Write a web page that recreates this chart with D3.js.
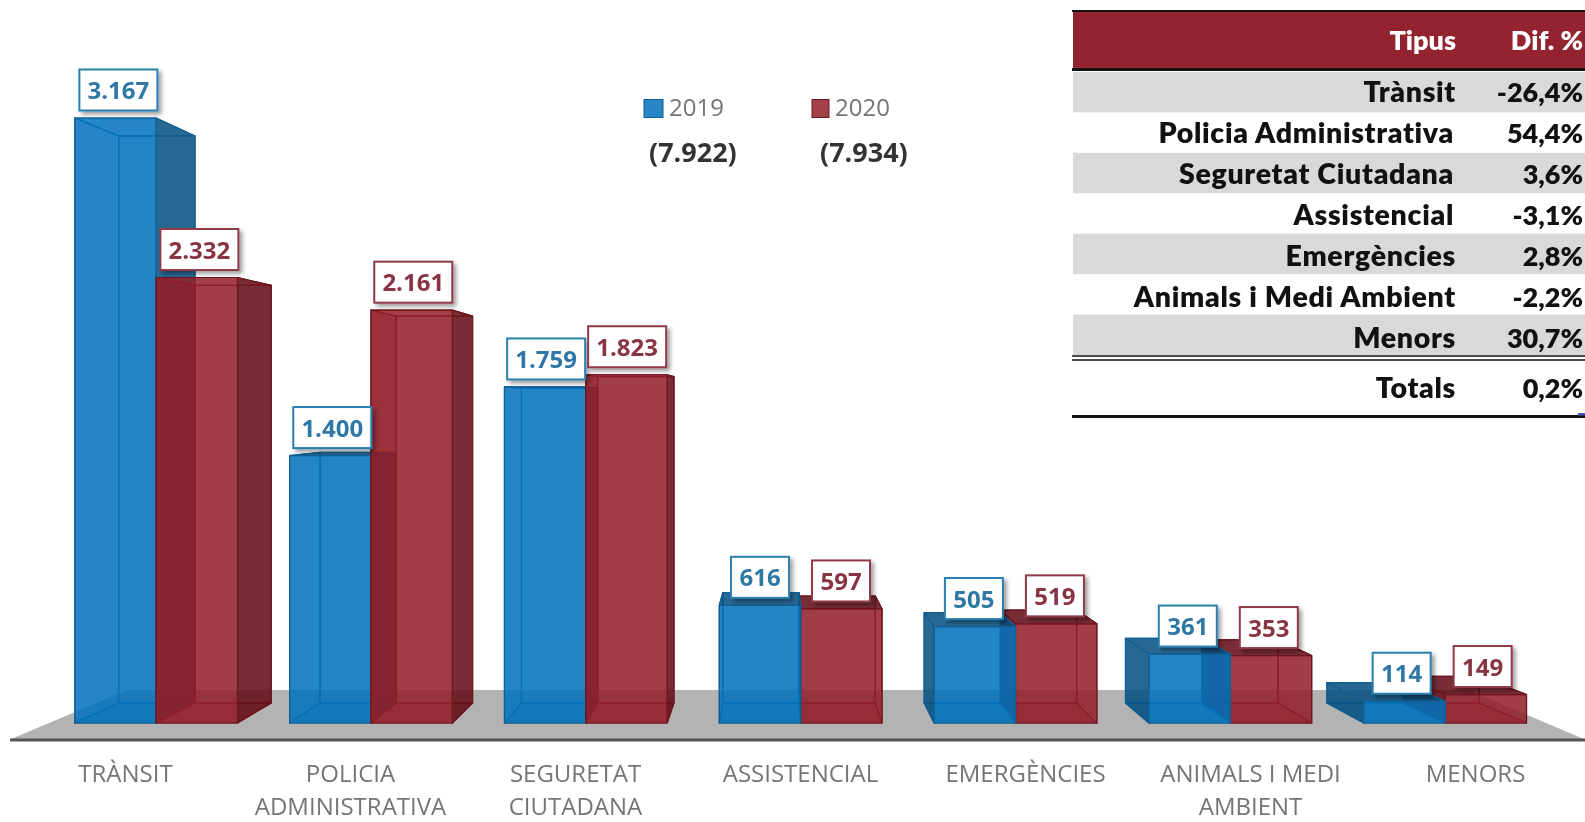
<!DOCTYPE html>
<html><head><meta charset="utf-8">
<script src="https://cdn.jsdelivr.net/npm/d3@7"></script>
<style>html,body{margin:0;padding:0;background:#fff;overflow:hidden}svg{display:block;filter:blur(0.6px)}</style>
</head><body><div id="c"></div>
<script>
const categories=["TRÀNSIT","POLICIA ADMINISTRATIVA","SEGURETAT CIUTADANA","ASSISTENCIAL","EMERGÈNCIES","ANIMALS I MEDI AMBIENT","MENORS"];
const categoryLines=[["TRÀNSIT"],["POLICIA","ADMINISTRATIVA"],["SEGURETAT","CIUTADANA"],["ASSISTENCIAL"],["EMERGÈNCIES"],["ANIMALS I MEDI","AMBIENT"],["MENORS"]];
const years=["2019","2020"];
const values2019=[3167,1400,1759,616,505,361,114];
const values2020=[2332,2161,1823,597,519,353,149];
const totals=[7922,7934];
const tableTypes=["Trànsit","Policia Administrativa","Seguretat Ciutadana","Assistencial","Emergències","Animals i Medi Ambient","Menors"];
const tableDiffs=[-26.4,54.4,3.6,-3.1,2.8,-2.2,30.7];
const tableTotalLabel="Totals";
const tableTotal=0.2;
const tableHeaders=["Tipus","Dif. %"];

const W=1585,H=822;
const loc=d3.formatLocale({decimal:",",thousands:".",grouping:[3],currency:["",""],minus:"-"});
const fmt=loc.format(",d"),pct=loc.format(".1f");
const svg=d3.select("#c").append("svg").attr("width",W).attr("height",H);
const defs=svg.append("defs");
const fs=defs.append("filter").attr("id","sh").attr("x","-20%").attr("y","-20%").attr("width","150%").attr("height","150%");
fs.append("feDropShadow").attr("dx",3).attr("dy",3).attr("stdDeviation",2.2).attr("flood-color","#000").attr("flood-opacity",.38);

// scales
const x0=d3.scaleBand().domain(categories).range([48.8,1552.5]).paddingInner(.2425).paddingOuter(.121);
const x1=d3.scaleBand().domain(years).range([0,x0.bandwidth()]);
const y=d3.scaleLinear().domain([0,3167]).range([723,118]);
const xLabel=d3.scalePoint().domain(categories).range([125,1475]);
const VP=[775,404],T=.0627;
const proj=(px,py,d)=>[px+d*T*(VP[0]-px),py+d*T*(VP[1]-py)];
const line=d3.line();

// floor
svg.append("path").attr("d",line([[10,739.5],[127,690],[1468,690],[1585,739.5]])+"Z").attr("fill","#b3b3b3");
svg.append("line").attr("x1",10).attr("x2",1585).attr("y1",740).attr("y2",740).attr("stroke","#555").attr("stroke-width",3);

const palette={"2019":{front:"#0172bc",side:"#055081",edge:"#135f92",hidden:.07},"2020":{front:"#931e29",side:"#630c16",edge:"#701620",hidden:.4}};
const bars=svg.append("g");
function drawBar(cat,yr,v){
  const c=palette[yr],l=x0(cat)+x1(yr),r=l+x1.bandwidth(),t=y(v),b=y(0);
  const F=[[l,t],[r,t],[r,b],[l,b]];
  const B=F.map(p=>proj(p[0],p[1],1));
  const g=bars.append("g").attr("stroke",c.edge).attr("stroke-width",1.2).attr("stroke-linejoin","round");
  const face=(pts,fill,op)=>g.append("path").attr("d",line(pts)+"Z").attr("fill",fill).attr("fill-opacity",op);
  face(B,c.front,.08);
  face([F[3],F[2],B[2],B[3]],c.front,.3);
  face([F[0],B[0],B[3],F[3]],c.side,B[0][0]<l?.85:c.hidden);
  face([F[1],B[1],B[2],F[2]],c.side,B[1][0]>r?.85:.06);
  face([F[0],F[1],B[1],B[0]],c.side,B[0][1]<t?.85:.05);
  face(F,c.front,.85);
}
categories.forEach((cat,i)=>{
  const a=()=>drawBar(cat,"2019",values2019[i]), b=()=>drawBar(cat,"2020",values2020[i]);
  if(x0(cat)+x0.bandwidth()/2<VP[0]){a();b();}else{b();a();}
});

// value labels
const labels=svg.append("g").attr("font-family","'Open Sans',sans-serif").attr("font-weight",700).attr("font-size",24);
function drawLabel(cat,yr,v,stroke,color){
  const cx=x0(cat)+x1(yr)+x1.bandwidth()/2, tp=y(v);
  const lx=cx+(VP[0]-cx)*.0044, ly=tp-28;
  const w=v>=1000?78:58,h=41;
  labels.append("rect").attr("x",lx-w/2).attr("y",ly-h/2).attr("width",w).attr("height",h)
    .attr("fill","#fff").attr("stroke",stroke).attr("stroke-width",2).attr("filter","url(#sh)");
  labels.append("text").attr("x",lx).attr("y",ly+9).attr("text-anchor","middle").attr("fill",color).text(fmt(v));
}
categories.forEach((cat,i)=>{
  drawLabel(cat,"2019",values2019[i],"#2c7fb2","#2f78a5");
  drawLabel(cat,"2020",values2020[i],"#8f3a46","#883442");
});

// category axis
const axis=svg.append("g").attr("transform","translate(0,755)").call(d3.axisBottom(xLabel).tickSize(0).tickPadding(0));
axis.select(".domain").remove();
axis.selectAll("text").attr("font-family","'Open Sans',sans-serif").attr("font-size",24).attr("fill","#757575").attr("y",0).attr("dy",0)
  .each(function(d,i){
    const t=d3.select(this).text(null);
    categoryLines[i].forEach((s,j)=>t.append("tspan").attr("x",0).attr("y",27+j*33).text(s));
  });

// legend
const legendX=d3.scaleOrdinal().domain(years).range([644,812]);
const legendW={"2019":19,"2020":17};
const legend=svg.append("g").attr("font-family","'Open Sans',sans-serif");
years.forEach((yr,i)=>{
  const lx=legendX(yr);
  legend.append("rect").attr("x",lx).attr("y",99.5).attr("width",legendW[yr]).attr("height",18)
    .attr("fill",yr==="2019"?"#2787c6":"#a34049").attr("stroke",palette[yr].edge).attr("stroke-width",1);
  legend.append("text").attr("x",lx+legendW[yr]+6).attr("y",116).attr("font-size",24).attr("fill","#757575").text(yr);
  legend.append("text").attr("x",lx+5+(i?3:0)).attr("y",162).attr("font-size",27).attr("font-weight",700).attr("fill","#333").text("("+fmt(totals[i])+")");
});

// table
const tbl=svg.append("g").attr("font-family","Lato,sans-serif").attr("font-weight",800).attr("font-size",28.5).attr("letter-spacing",.7).attr("text-anchor","end");
const TL=1073,TR=1585,c1=1456,c2=1583;
const rowY=d3.scaleBand().domain(tableTypes).range([72,355]);
const baseY=d3.scalePoint().domain(tableTypes).range([102,348]);
tbl.append("rect").attr("x",TL).attr("y",12).attr("width",TR-TL).attr("height",57).attr("fill","#92232f");
tableTypes.forEach((t,i)=>{
  if(i%2===0) tbl.append("rect").attr("x",TL).attr("y",rowY(t)).attr("width",TR-TL).attr("height",rowY.bandwidth()).attr("fill","#d9d9d9");
});
[[11,2.2],[69.5,3.2],[356,1.6],[360,1.6],[416.5,3.2]].forEach(([yy,sw])=>
  tbl.append("line").attr("x1",TL-1).attr("x2",TR).attr("y1",yy).attr("y2",yy).attr("stroke","#111").attr("stroke-width",sw));
const diffText=(yy,fill,s)=>tbl.append("text").attr("x",c2).attr("y",yy).attr("fill",fill).attr("font-size",27).attr("letter-spacing",0).text(s);
tbl.append("text").attr("x",c1).attr("y",50).attr("fill","#fff").attr("font-size",27).attr("letter-spacing",0).text(tableHeaders[0]);
diffText(50,"#fff",tableHeaders[1]);
tableTypes.forEach((t,i)=>{
  const by=baseY(t);
  tbl.append("text").attr("x",c1-(i>=1&&i<=3?2:0)).attr("y",by).attr("fill","#111").text(t);
  diffText(by,"#111",pct(tableDiffs[i])+"%");
});
tbl.append("text").attr("x",c1).attr("y",398).attr("fill","#111").text(tableTotalLabel);
diffText(398,"#111",pct(tableTotal)+"%");
svg.append("rect").attr("x",1578).attr("y",413).attr("width",7).attr("height",2.5).attr("fill","#3b5bb5");
</script></body></html>
